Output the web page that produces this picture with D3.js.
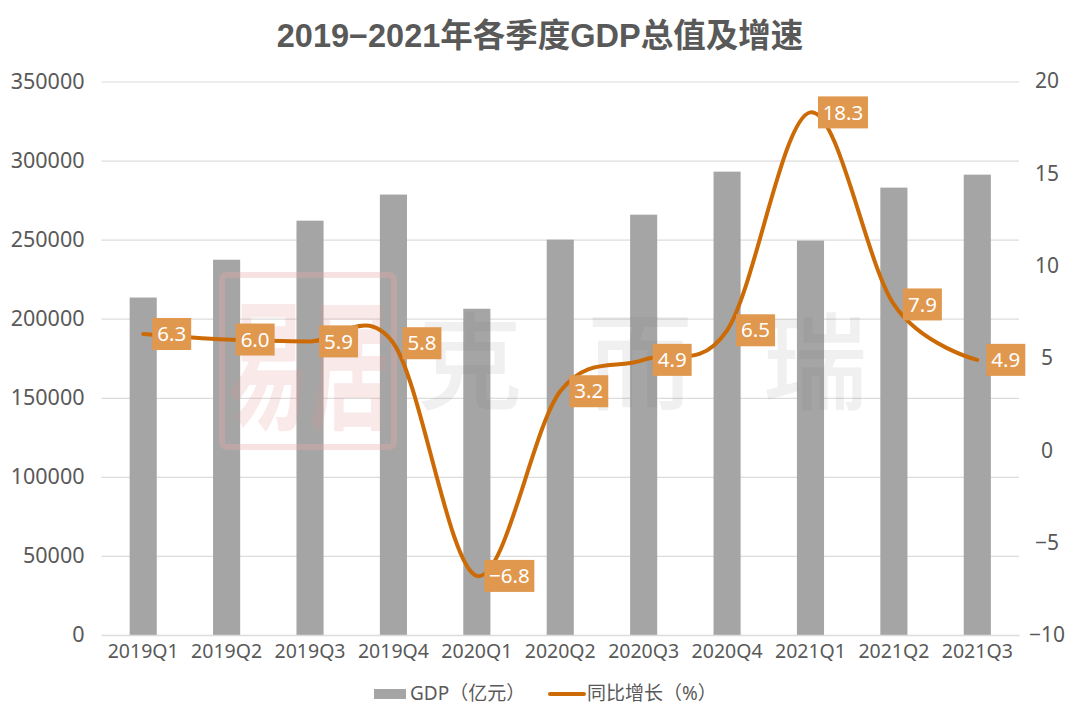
<!DOCTYPE html>
<html><head><meta charset="utf-8">
<script src="https://cdn.jsdelivr.net/npm/d3@7"></script>
<style>html,body{margin:0;background:#fff}svg{display:block}</style></head>
<body><div id="c"></div>
<script>
const categories=["2019Q1","2019Q2","2019Q3","2019Q4","2020Q1","2020Q2","2020Q3","2020Q4","2021Q1","2021Q2","2021Q3"];
const gdpValues=[213400,237300,262000,278500,206300,250000,265800,293000,249400,282900,291100];
const growthValues=[6.3,6.0,5.9,5.8,-6.8,3.2,4.9,6.5,18.3,7.9,4.9];
const growthLabels=["6.3","6.0","5.9","5.8","−6.8","3.2","4.9","6.5","18.3","7.9","4.9"];
const gdpTicks=[0,50000,100000,150000,200000,250000,300000,350000];
const growthTicks=[-10,-5,0,5,10,15,20];
const titleText="2019−2021年各季度GDP总值及增速";
const legendBar="GDP（亿元）",legendLine="同比增长（%）";

const font='"Noto Sans","Noto Sans CJK SC",sans-serif';
const textC="#595959",barC="#a5a5a5",lineC="#cc6a05",labelC="#e0974e",gridC="#dcdcdc";
const svg=d3.select("#c").append("svg").attr("width",1080).attr("height",720).style("font-family",font);
const L=101.5,R=1019,T=81.5,B=635;
const x=d3.scaleBand().domain(categories).range([L,R]).paddingInner(0.675).paddingOuter(0.3375);
const yL=d3.scaleLinear().domain([0,350000]).range([B,T]);
const yR=d3.scaleLinear().domain([-10,20]).range([B,T-0.5]);

svg.append("text").attr("x",540).attr("y",47).attr("text-anchor","middle").attr("fill",textC)
  .style("font-family",'"Liberation Sans","Noto Sans CJK SC",sans-serif')
  .attr("font-size",32.5).attr("font-weight",700).text(titleText);

const gl=svg.append("g").attr("transform",`translate(${L},0)`)
  .call(d3.axisLeft(yL).tickValues(gdpTicks).tickFormat(d3.format("d")).tickSize(0).tickPadding(17));
gl.select(".domain").remove();
gl.selectAll("text").attr("fill",textC).attr("font-size",21.5).style("font-family",font);
gl.selectAll("line").attr("x2",R-L).attr("stroke",gridC).attr("stroke-width",1.2);

svg.append("g").selectAll("rect").data(categories).join("rect")
  .attr("x",d=>x(d)).attr("width",x.bandwidth())
  .attr("y",(d,i)=>yL(gdpValues[i])).attr("height",(d,i)=>B-yL(gdpValues[i])).attr("fill",barC);

const wm=svg.append("g").attr("pointer-events","none");
wm.append("rect").attr("x",222).attr("y",275).attr("width",172).attr("height",172).attr("rx",5)
  .attr("fill","none").attr("stroke","#e9a9a9").attr("stroke-opacity",.35).attr("stroke-width",6);
wm.selectAll(".seal").data(["易","居"]).join("text").attr("class","seal")
  .attr("x",(d,i)=>i?350:268).attr("y",396).attr("text-anchor","middle")
  .attr("font-size",88).attr("font-weight",700).attr("fill","#e08f8f").attr("fill-opacity",.2)
  .style("font-family",'"Noto Sans CJK SC"').attr("transform",(d,i)=>`translate(${i?350:268},360) scale(.92,1.6) translate(${i?-350:-268},-360)`).text(d=>d);
wm.selectAll(".wmt").data(["克","而","瑞"]).join("text").attr("class","wmt")
  .attr("x",(d,i)=>[470,640,815][i]).attr("y",401).attr("text-anchor","middle")
  .attr("font-size",105).attr("font-weight",500).attr("fill","#777").attr("fill-opacity",.11)
  .style("font-family",'"Noto Sans CJK SC"').text(d=>d);

const gb=svg.append("g").attr("transform",`translate(0,${B})`)
  .call(d3.axisBottom(x).tickSize(0).tickPadding(9));
gb.select(".domain").attr("stroke",gridC).attr("stroke-width",1.5);
gb.selectAll("text").attr("fill",textC).attr("font-size",19.5).style("font-family",font);

const gr=svg.append("g").attr("transform",`translate(1047,0)`)
  .call(d3.axisRight(yR).tickValues(growthTicks).tickFormat(d=>String(d).replace("-","−")).tickSize(0).tickPadding(0));
gr.select(".domain").remove();
gr.selectAll("text").attr("fill",textC).attr("font-size",21).attr("text-anchor","middle").style("font-family",font);

const cx=d=>x(d)+x.bandwidth()/2;
const line=d3.line().x(d=>cx(d)).y((d,i)=>yR(growthValues[i])).curve(d3.curveCatmullRom.alpha(0));
svg.append("path").attr("d",line(categories)).attr("fill","none").attr("stroke",lineC).attr("stroke-width",4).attr("stroke-linecap","round");

const lab=svg.append("g").selectAll("g").data(categories).join("g")
  .attr("transform",(d,i)=>`translate(${cx(d)+28.5+(growthLabels[i].length>3?4:0)},${yR(growthValues[i])})`);
lab.append("rect").attr("x",(d,i)=>growthLabels[i].length>3?-25:-19.5).attr("y",-16)
  .attr("width",(d,i)=>growthLabels[i].length>3?50:39).attr("height",32).attr("fill",labelC);
lab.append("text").attr("text-anchor","middle").attr("dy","0.35em").attr("fill","#fff").attr("font-size",20.5)
  .text((d,i)=>growthLabels[i]);

const lg=svg.append("g").attr("fill",textC).attr("font-size",19);
lg.append("rect").attr("x",374).attr("y",689).attr("width",32).attr("height",10).attr("fill",barC);
lg.append("text").attr("x",410).attr("y",700).text(legendBar);
lg.append("line").attr("x1",550).attr("x2",584).attr("y1",694).attr("y2",694).attr("stroke",lineC).attr("stroke-width",4).attr("stroke-linecap","round");
lg.append("text").attr("x",587).attr("y",700).text(legendLine);
</script></body></html>
